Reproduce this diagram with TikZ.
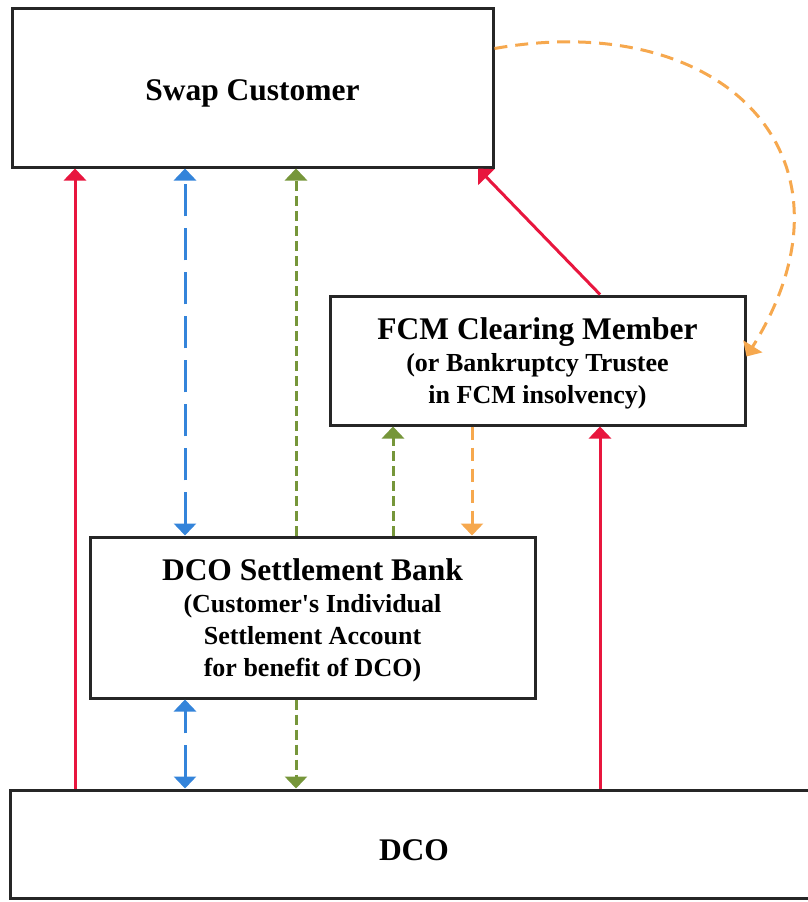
\documentclass[tikz,border=0pt]{standalone}
\usepackage{fontspec}
\setmainfont{Liberation Serif}
\usepackage{tikz}
\usetikzlibrary{positioning,arrows.meta}
\definecolor{payred}{RGB}{232,22,62}
\definecolor{payblue}{RGB}{52,132,218}
\definecolor{paygreen}{RGB}{118,150,58}
\definecolor{payorange}{RGB}{246,168,78}
\newcommand{\hdfont}{\fontsize{31.5}{34}\selectfont\bfseries}
\newcommand{\subfont}{\fontsize{26}{32}\selectfont\bfseries}

\begin{document}
\begin{tikzpicture}[x=1pt,y=1pt,
box/.style={draw=black!85, line width=3pt, align=center, inner sep=0pt, text depth=0pt, font=\subfont},
redline/.style={draw=payred, line width=3pt, -{Triangle[width=22pt,length=12pt]}},
blueline/.style={draw=payblue, line width=3pt, dash pattern=on 32pt off 12pt, {Triangle[width=22pt,length=12pt]}-{Triangle[width=22pt,length=12pt]}},
greenline/.style={draw=paygreen, line width=3pt, dash pattern=on 10pt off 5pt, -{Triangle[width=22pt,length=12pt]}},
orangeline/.style={draw=payorange, line width=3pt, dash pattern=on 13pt off 8pt, -{Triangle[width=22pt,length=12pt]}},
]
\useasboundingbox (0,0) rectangle (807,-902);
%Nodes
\node[box, minimum width=481pt, minimum height=159pt, text height=25pt] (swap) at (252.5,-87.5) {{\hdfont Swap Customer}};
\node[box, minimum width=415pt, minimum height=129pt] (fcm) [below=126pt of swap, xshift=285pt] {{\hdfont FCM Clearing Member}\\(or Bankruptcy Trustee\\in FCM insolvency)};
\node[box, minimum width=445pt, minimum height=161pt] (bank) [below=109pt of fcm, xshift=-225pt] {{\hdfont DCO Settlement Bank}\\(Customer\textquotesingle s Individual\\Settlement Account\\for benefit of DCO)};
\node[box, minimum width=808pt, minimum height=108pt, text height=32pt] (dco) [below=89pt of bank, xshift=101.5pt] {{\hdfont DCO}};

\coordinate (redleft) at ([xshift=64.5pt]swap.south west);
\coordinate (bluemid) at ([xshift=174.5pt]swap.south west);
\coordinate (greenmid) at ([xshift=285.5pt]swap.south west);
\coordinate (greenfcm) at ([xshift=64.5pt]fcm.south west);
\coordinate (orangefcm) at ([xshift=143.5pt]fcm.south west);
\coordinate (redright) at ([xshift=271.5pt]fcm.south west);

%Lines
\draw[redline] (redleft |- dco.north) -- (redleft);
\draw[blueline] (bluemid |- bank.north) -- (bluemid);
\draw[blueline] (bluemid |- dco.north) -- (bluemid |- bank.south);
\draw[greenline] (greenmid |- bank.north) -- (greenmid);
\draw[greenline] (greenmid |- bank.south) -- (greenmid |- dco.north);
\draw[greenline] (greenfcm |- bank.north) -- (greenfcm);
\draw[orangeline] (orangefcm) -- (orangefcm |- bank.north);
\draw[redline] (redright |- dco.north) -- (redright);
\draw[redline] (redright |- fcm.north) -- ([xshift=-16.5pt]swap.south east);

\draw[orangeline] ([yshift=-42pt]swap.north east) to[out=10,in=58,looseness=1.5] ([yshift=-62pt]fcm.north east);
\end{tikzpicture}
\end{document}
